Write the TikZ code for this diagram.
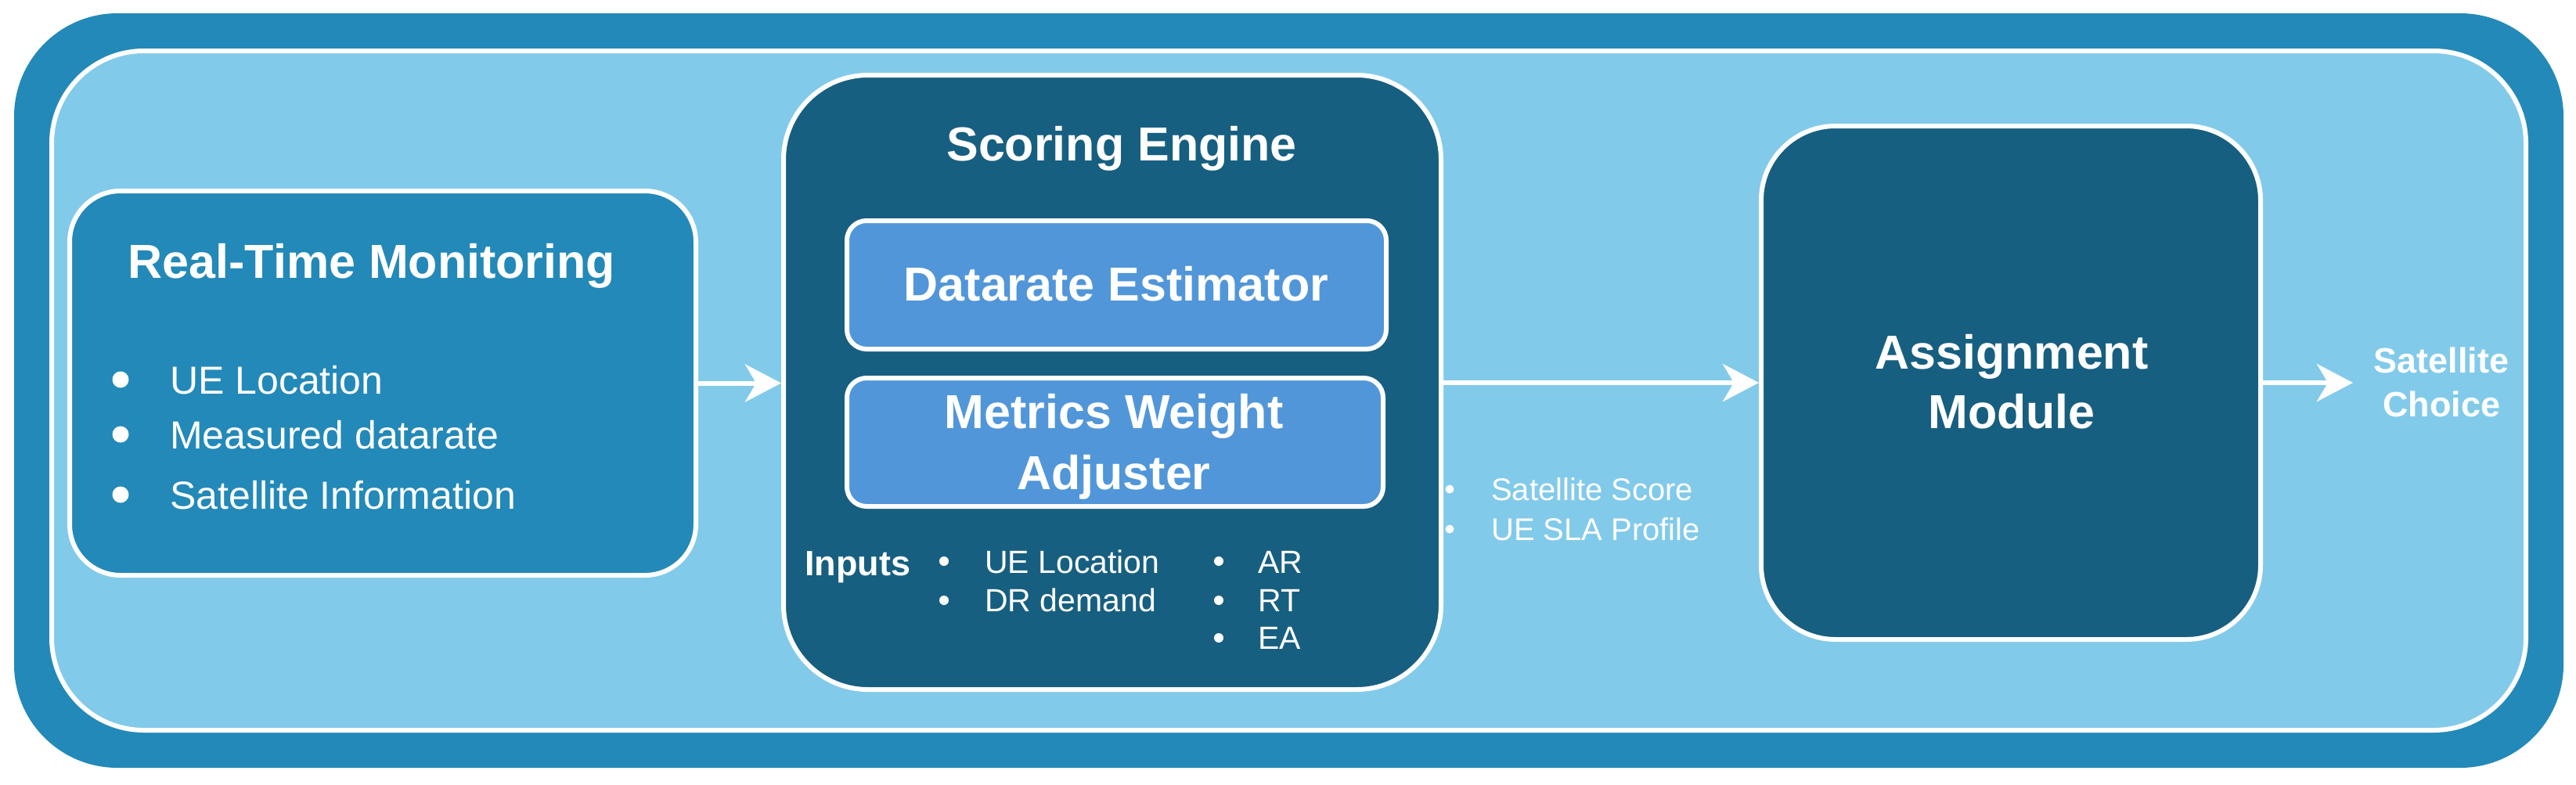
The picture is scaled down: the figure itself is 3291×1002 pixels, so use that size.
\documentclass[tikz,border=0pt]{standalone}
\usepackage{fontspec}
\setmainfont{Liberation Sans}
\usetikzlibrary{arrows.meta}
\definecolor{band}{HTML}{2389B8}
\definecolor{pale}{HTML}{82CAEA}
\definecolor{deep}{HTML}{175F80}
\definecolor{mid}{HTML}{5196D9}
\begin{document}
\begin{tikzpicture}[x=1pt,y=-1pt,
  panel/.style={draw=white, line width=6pt, inner sep=0pt},
  ttl/.style={font=\bfseries\fontsize{61}{77}\selectfont, text=white, align=center, inner sep=0pt, anchor=base},
  itemL/.style={font=\fontsize{50}{60}\selectfont, text=white, anchor=base west, inner sep=0pt},
  itemS/.style={font=\fontsize{41}{50}\selectfont, text=white, anchor=base west, inner sep=0pt},
  itemT/.style={font=\fontsize{40}{50}\selectfont, text=white, anchor=base west, inner sep=0pt},
  dot/.style={circle, fill=white, inner sep=0pt, minimum size=#1},
  flow/.style={draw=white, line width=6pt, -{Stealth[length=46pt,width=48pt,inset=14pt]}}]
\useasboundingbox (0,0) rectangle (3291,1002);

% containers
\node[fill=band, rounded corners=132pt, inner sep=0pt, minimum width=3257pt, minimum height=964pt] (outer) at (1646.5,499) {};
\node[panel, fill=pale, rounded corners=118pt, minimum width=3161pt, minimum height=868pt] (inner) at (1646.5,499) {};

% main blocks
\node[panel, fill=band, rounded corners=65pt, minimum width=800pt, minimum height=491pt] (rtm) at (489,489.5) {};
\node[panel, fill=deep, rounded corners=108pt, minimum width=840pt, minimum height=785pt] (se) at (1421,488.5) {};
\node[panel, fill=mid, rounded corners=25pt, minimum width=689pt, minimum height=164pt] (de) at (1426.5,364) {};
\node[panel, fill=mid, rounded corners=25pt, minimum width=685pt, minimum height=164pt] (mwa) at (1424.5,565) {};
\node[panel, fill=deep, rounded corners=95pt, minimum width=638pt, minimum height=656pt] (am) at (2569,489) {};

% Real-Time Monitoring
\node[ttl] (rtmt) at (475,355) {Real-Time Monitoring};
\node[dot=21pt] (b1) at (154,485) {};
\node[dot=21pt] (b2) at (154,555) {};
\node[dot=21pt] (b3) at (154,632) {};
\node[itemL] (i1) at (217,503) {UE Location};
\node[itemL] (i2) at (217,573) {Measured datarate};
\node[itemL] (i3) at (217,650) {Satellite Information};

% Scoring Engine
\node[ttl] (set) at (1433,205) {Scoring Engine};
\node[ttl] (det) at (1426,384) {Datarate Estimator};
\node[ttl, font=\bfseries\fontsize{61}{78}\selectfont] (mwat) at (1423,625) {Metrics Weight\\Adjuster};
\node[font=\bfseries\fontsize{45}{54}\selectfont, text=white, anchor=base west, inner sep=0pt] (inp) at (1028,735) {Inputs};
\node[dot=12pt] (c1) at (1206,717) {};
\node[dot=12pt] (c2) at (1206,767) {};
\node[itemS] (j1) at (1258,732) {UE Location};
\node[itemS] (j2) at (1258,781) {DR demand};
\node[dot=12pt] (d1) at (1557,717) {};
\node[dot=12pt] (d2) at (1557,767) {};
\node[dot=12pt] (d3) at (1557,815) {};
\node[itemS] (k1) at (1607,732) {AR};
\node[itemS] (k2) at (1607,781) {RT};
\node[itemS] (k3) at (1607,829) {EA};

% between SE and AM
\node[dot=11pt] (e1) at (1852,625) {};
\node[dot=11pt] (e2) at (1852,676) {};
\node[itemT] (l1) at (1905,639) {Satellite Score};
\node[itemT] (l2) at (1905,690) {UE SLA Profile};

% Assignment Module
\node[ttl, font=\bfseries\fontsize{61}{76}\selectfont] (amt) at (2570,547) {Assignment\\Module};

% output
\node[ttl, font=\bfseries\fontsize{45}{56}\selectfont] (sc) at (3119,532) {Satellite\\Choice};
\coordinate (outp) at (3006,489);

% connectors
\draw[flow] (rtm.east) -- (rtm.east -| se.west);
\draw[flow] (se.east |- am.west) -- (am.west);
\draw[flow] (am.east) -- (outp);
\end{tikzpicture}
\end{document}
